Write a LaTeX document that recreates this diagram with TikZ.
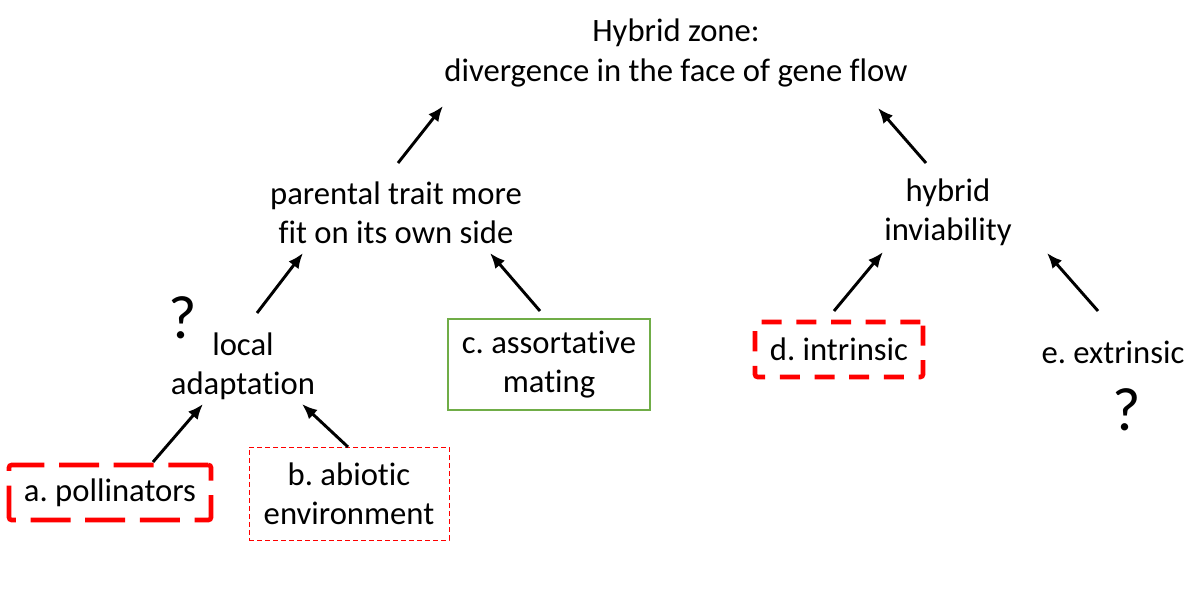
\documentclass[tikz,border=0pt]{standalone}
\usepackage{fontspec}
\setmainfont{Carlito}[Ligatures=NoCommon]
\usetikzlibrary{arrows.meta}
\definecolor{matgreen}{HTML}{70AD47}
\frenchspacing

\begin{document}
\begin{tikzpicture}[x=0.75pt,y=-0.75pt,->,>={Latex[length=11.5pt,width=9.5pt]},
    every node/.style={align=center,font=\fontsize{24.5}{29.5}\selectfont},
    link/.style={line width=2.2pt},
    bigdash/.style={draw=red,line width=3.5pt,rounded corners=2pt,dash pattern=on 30pt off 11pt},
    smalldash/.style={draw=red,line width=3.5pt,rounded corners=2pt,dash pattern=on 15pt off 11pt},
    thindash/.style={draw=red,line width=0.7pt,dash pattern=on 4pt off 2pt},
    greenbox/.style={draw=matgreen,line width=0.8pt},
    query/.style={font=\fontsize{46}{50}\selectfont}]
  \useasboundingbox (0,0) rectangle (1196,591);

  \node (zone) at (676,53) {Hybrid zone:\\divergence in the face of gene flow};
  \node (trait) at (396,213) {parental trait more\\fit on its own side};
  \node (inviab) at (948,212) {hybrid\\inviability};
  \node (local) at (243,366) {local\\adaptation};
  \node[greenbox,minimum width=151.5pt,minimum height=68.25pt] (mating) at (549,364.5) {c. assortative\\mating};
  \node[smalldash,minimum width=126pt,minimum height=41.25pt] (intrinsic) at (839,349.5) {d. intrinsic};
  \node (extrinsic) at (1113,352) {e. extrinsic};
  \node[bigdash,minimum width=151.5pt,minimum height=41.25pt] (pollin) at (110,492.5) {a. pollinators};
  \node[thindash,minimum width=150pt,minimum height=69.75pt] (abiotic) at (349,493.5) {b. abiotic\\environment};
  \node[query] (qlocal) at (183,318) {?};
  \node[query] (qextr) at (1127,410) {?};

  \draw[link] ([shift={(2,-50)}]trait.center) -- ([shift={(-233,53)}]zone.center);
  \draw[link] ([shift={(-22,-49)}]inviab.center) -- ([shift={(202,55)}]zone.center);
  \draw[link] ([shift={(14,-53)}]local.center) -- ([shift={(-93,40)}]trait.center);
  \draw[link] ([shift={(-9,-53.5)}]mating.center) -- ([shift={(94,40)}]trait.center);
  \draw[link] ([shift={(-5,-38.5)}]intrinsic.center) -- ([shift={(-65,40)}]inviab.center);
  \draw[link] ([shift={(-15,-41)}]extrinsic.center) -- ([shift={(99,41)}]inviab.center);
  \draw[link] ([shift={(43,-30.5)}]pollin.center) -- ([shift={(-40,38)}]local.center);
  \draw[link] ([shift={(-1,-46.5)}]abiotic.center) -- ([shift={(59,38)}]local.center);
\end{tikzpicture}
\end{document}
